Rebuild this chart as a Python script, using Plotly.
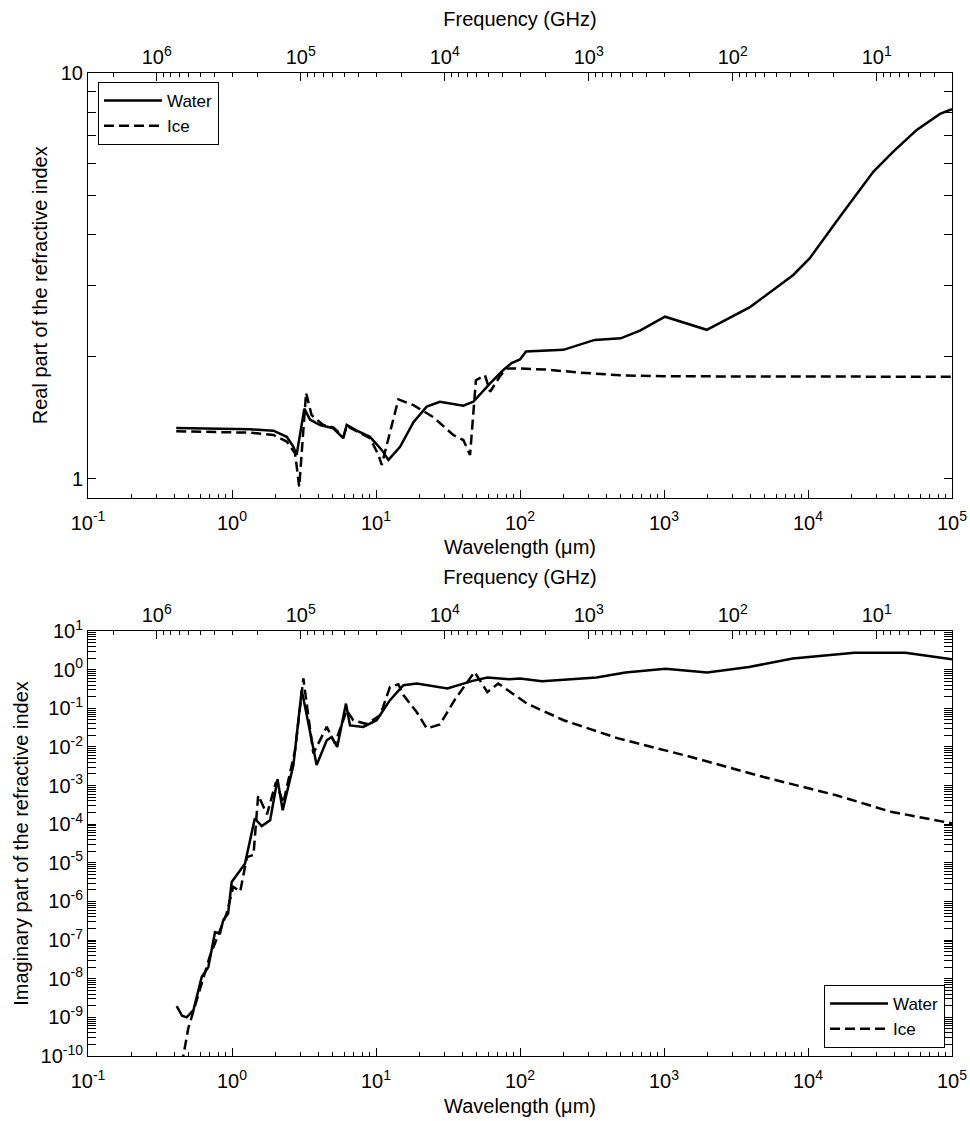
import numpy as np
import plotly.graph_objects as go

# ---------------- data ----------------
# Real part of refractive index
WL_WATER_RE = [0.41, 0.6, 0.78, 1.33, 1.94, 2.4, 2.67, 2.81, 3.18, 3.48, 4.08, 5.05, 5.93, 6.26,
               7.35, 9.08, 10.96, 12.2, 14.7, 18.2, 22.5, 27.8, 40.4, 47.4, 62, 76.6, 87.5, 100,
               110, 200, 330, 500, 681, 1016, 1982, 3954, 7900, 10300, 16700, 28400, 39100,
               56900, 82500, 100000]
N_WATER_RE = [1.335, 1.333, 1.333, 1.325, 1.315, 1.27, 1.20, 1.146, 1.49, 1.40, 1.358, 1.333,
              1.26, 1.358, 1.315, 1.27, 1.179, 1.114, 1.20, 1.38, 1.507, 1.549, 1.515, 1.549,
              1.72, 1.855, 1.93, 1.97, 2.06, 2.08, 2.2, 2.22, 2.32, 2.51, 2.33, 2.65, 3.18, 3.50,
              4.43, 5.71, 6.40, 7.24, 7.93, 8.14]

WL_ICE_RE = [0.41, 0.6, 1.33, 1.94, 2.4, 2.74, 2.93, 3.27, 3.57, 4.3, 5.05, 5.93, 6.26, 9.08,
             10.4, 10.96, 12.5, 14.3, 18.2, 25, 34.4, 40.4, 45, 49.4, 57.1, 62, 72.6, 80.7, 100,
             150, 250, 500, 1000, 100000]
N_ICE_RE = [1.31, 1.308, 1.30, 1.283, 1.236, 1.157, 0.957, 1.63, 1.437, 1.358, 1.34, 1.27, 1.35,
            1.26, 1.146, 1.083, 1.296, 1.57, 1.52, 1.42, 1.283, 1.247, 1.146, 1.75, 1.80, 1.64,
            1.79, 1.87, 1.87, 1.86, 1.83, 1.80, 1.79, 1.785]

# Imaginary part of refractive index
WL_WATER_IM = [0.413, 0.45, 0.484, 0.54, 0.616, 0.685, 0.762, 0.826, 0.87, 0.94, 0.995, 1.23,
               1.44, 1.61, 1.84, 2.07, 2.25, 2.67, 3.05, 3.87, 4.55, 4.92, 5.38, 6.19, 6.6, 8.16,
               10.1, 12.5, 15.5, 19.2, 31.3, 46.9, 59.3, 84, 100, 142, 340, 540, 1023, 1995,
               3890, 7830, 21000, 47500, 100000]
K_WATER_IM = [1.95e-9, 1.1e-9, 1.0e-9, 1.55e-9, 1.1e-8, 2.0e-8, 1.6e-7, 1.5e-7, 3.3e-7, 4.9e-7,
              3.2e-6, 9.5e-6, 1.4e-4, 8.9e-5, 1.26e-4, 1.45e-3, 2.3e-4, 3.4e-3, 0.295, 3.4e-3,
              0.0148, 0.018, 0.010, 0.132, 0.036, 0.033, 0.049, 0.162, 0.394, 0.436, 0.324,
              0.513, 0.624, 0.562, 0.589, 0.50, 0.624, 0.84, 1.06, 0.84, 1.17, 1.93, 2.75, 2.75,
              1.85]

WL_ICE_IM = [0.44, 0.459, 0.497, 0.568, 0.63, 0.70, 0.826, 0.918, 1.02, 1.14, 1.27, 1.41, 1.52,
             1.75, 2.02, 2.27, 2.74, 3.13, 3.67, 4.55, 5.19, 6.26, 6.95, 8.6, 10.7, 12.5, 14.3,
             15.5, 19.2, 22.5, 27.8, 35.1, 48.3, 59.3, 70.6, 112, 201, 481, 1540, 4920, 15700,
             37600, 100000]
K_ICE_IM = [2.5e-11, 1.0e-10, 5.2e-10, 2.8e-9, 9.3e-9, 3.7e-8, 1.8e-7, 4.9e-7, 2.4e-6, 1.8e-6,
            1.4e-5, 1.6e-5, 5.6e-4, 1.8e-4, 1.23e-3, 3.5e-4, 8.1e-3, 0.59, 6.8e-3, 0.033,
            0.0123, 0.089, 0.049, 0.039, 0.066, 0.355, 0.417, 0.219, 0.079, 0.030, 0.038,
            0.162, 0.87, 0.263, 0.436, 0.132, 0.049, 0.0166, 5.5e-3, 1.66e-3, 5.6e-4, 2.1e-4,
            1.05e-4]

# Tick labels
WL_TICKS = [0.1, 1, 10, 100, 1000, 10000, 100000]
WL_TICKTEXT = ["10<sup>-1</sup>", "10<sup>0</sup>", "10<sup>1</sup>", "10<sup>2</sup>",
               "10<sup>3</sup>", "10<sup>4</sup>", "10<sup>5</sup>"]
F_TICKS = [1e6, 1e5, 1e4, 1e3, 1e2, 1e1]
F_TICKTEXT = ["10<sup>6</sup>", "10<sup>5</sup>", "10<sup>4</sup>", "10<sup>3</sup>",
              "10<sup>2</sup>", "10<sup>1</sup>"]
RE_TICKS = [1, 10]
RE_TICKTEXT = ["1", "10"]
IM_TICKS = [10.0 ** e for e in range(-10, 2)]
IM_TICKTEXT = ["10<sup>%d</sup>" % e for e in range(-10, 2)]

C_UM_GHZ = 3e5  # f[GHz] = 3e5 / lambda[um]

# ---------------- helpers ----------------
FONT = "Arial, 'Liberation Sans', sans-serif"
W, H = 970, 1121
X0, X1 = 88, 952
TOP_Y0, TOP_Y1 = 73, 497.5
BOT_Y0, BOT_Y1 = 631, 1056


def minor_vals(lo_exp, hi_exp):
    return [m * 10.0 ** e for e in range(lo_exp, hi_exp + 1) for m in range(2, 10)]


def xdom():
    return [X0 / W, X1 / W]


def ydom(y0, y1):
    return [1 - y1 / H, 1 - y0 / H]


axis_common = dict(
    type="log", showline=True, linecolor="black", linewidth=1, ticks="inside",
    ticklen=8, tickwidth=1, tickcolor="black", showgrid=False, zeroline=False,
    tickfont=dict(family=FONT, size=20, color="black"), tickmode="array",
    automargin=False,
)

fig = go.Figure()

water_line = dict(color="black", width=2.5)
ice_line = dict(color="black", width=2.5, dash="10px,5px")

# top panel
fig.add_trace(go.Scatter(x=WL_WATER_RE, y=N_WATER_RE, mode="lines", name="Water",
                         line=water_line, xaxis="x", yaxis="y", legend="legend"))
fig.add_trace(go.Scatter(x=WL_ICE_RE, y=N_ICE_RE, mode="lines", name="Ice",
                         line=ice_line, xaxis="x", yaxis="y", legend="legend"))
fig.add_trace(go.Scatter(x=[C_UM_GHZ / v for v in WL_WATER_RE], y=N_WATER_RE, mode="lines",
                         line=dict(width=0), opacity=0, showlegend=False, hoverinfo="skip",
                         xaxis="x2", yaxis="y"))
# bottom panel
fig.add_trace(go.Scatter(x=WL_WATER_IM, y=K_WATER_IM, mode="lines", name="Water",
                         line=water_line, xaxis="x3", yaxis="y2", legend="legend2"))
fig.add_trace(go.Scatter(x=WL_ICE_IM, y=K_ICE_IM, mode="lines", name="Ice",
                         line=ice_line, xaxis="x3", yaxis="y2", legend="legend2"))
fig.add_trace(go.Scatter(x=[C_UM_GHZ / v for v in WL_WATER_IM], y=K_WATER_IM, mode="lines",
                         line=dict(width=0), opacity=0, showlegend=False, hoverinfo="skip",
                         xaxis="x4", yaxis="y2"))

title_font = dict(family=FONT, size=20, color="black")
minor_x = dict(ticks="inside", ticklen=4, tickcolor="black", tickmode="array",
               tickvals=minor_vals(-1, 4))
minor_f = dict(ticks="inside", ticklen=4, tickcolor="black", tickmode="array",
               tickvals=minor_vals(0, 6))

fig.update_layout(
    width=W, height=H, margin=dict(l=0, r=0, t=0, b=0, autoexpand=False),
    paper_bgcolor="white", plot_bgcolor="white", hovermode=False,
    font=dict(family=FONT, color="black"),
    xaxis=dict(axis_common, domain=xdom(), anchor="y", range=[-1, 5],
               tickvals=WL_TICKS, ticktext=WL_TICKTEXT, minor=minor_x, ticklabelstandoff=7,
               title=dict(text="Wavelength (\u03bcm)", font=title_font, standoff=7)),
    xaxis2=dict(axis_common, overlaying="x", side="top", anchor="y",
                range=[np.log10(C_UM_GHZ / 0.1), np.log10(C_UM_GHZ / 1e5)],
                tickvals=F_TICKS, ticktext=F_TICKTEXT, minor=minor_f,
                title=dict(text="Frequency (GHz)", font=title_font, standoff=10)),
    yaxis=dict(axis_common, domain=ydom(TOP_Y0, TOP_Y1), anchor="x",
               range=[np.log10(0.9), 1], tickvals=RE_TICKS, ticktext=RE_TICKTEXT,
               mirror="allticks",
               minor=dict(ticks="inside", ticklen=4, tickcolor="black", tickmode="array",
                          tickvals=minor_vals(0, 0)),
               title=dict(text="Real part of the refractive index", font=title_font,
                          standoff=7)),
    xaxis3=dict(axis_common, domain=xdom(), anchor="y2", range=[-1, 5],
                tickvals=WL_TICKS, ticktext=WL_TICKTEXT, minor=minor_x, ticklabelstandoff=7,
                title=dict(text="Wavelength (\u03bcm)", font=title_font, standoff=7)),
    xaxis4=dict(axis_common, overlaying="x3", side="top", anchor="y2",
                range=[np.log10(C_UM_GHZ / 0.1), np.log10(C_UM_GHZ / 1e5)],
                tickvals=F_TICKS, ticktext=F_TICKTEXT, minor=minor_f,
                title=dict(text="Frequency (GHz)", font=title_font, standoff=10)),
    yaxis2=dict(axis_common, domain=ydom(BOT_Y0, BOT_Y1), anchor="x3",
                range=[-10, 1], tickvals=IM_TICKS, ticktext=IM_TICKTEXT,
                mirror="allticks",
                minor=dict(ticks="inside", ticklen=4, tickcolor="black", tickmode="array",
                           tickvals=minor_vals(-10, 0)),
                title=dict(text="Imaginary part of the refractive index", font=title_font,
                           standoff=6)),
    legend=dict(x=98 / W, y=1 - 82 / H, xanchor="left", yanchor="top",
                bgcolor="white", bordercolor="black", borderwidth=1, itemwidth=58,
                font=dict(family=FONT, size=17, color="black")),
    legend2=dict(x=945 / W, y=1 - 1048 / H, xanchor="right", yanchor="bottom",
                 bgcolor="white", bordercolor="black", borderwidth=1, itemwidth=58,
                 font=dict(family=FONT, size=17, color="black")),
)

fig.write_html("out.html")
